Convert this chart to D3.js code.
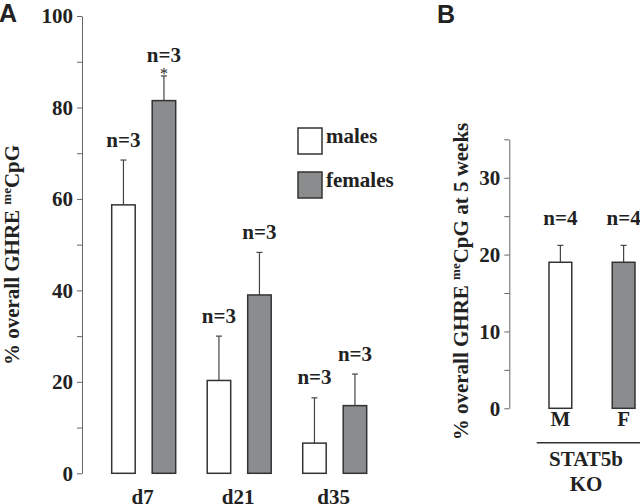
<!DOCTYPE html>
<html><head><meta charset="utf-8">
<script src="https://cdn.jsdelivr.net/npm/d3@7"></script>
<style>
html,body{margin:0;padding:0;background:#fff;}
svg{display:block;}
text{font-family:"Liberation Serif","Times New Roman",serif;font-weight:bold;fill:#222;}
</style></head>
<body>
<svg id="chart" width="640" height="504"></svg>
<script>
// ---- Data (Panel A) ----
const categories = ["d7", "d21", "d35"];
const series = ["males", "females"];
const maleMeans = [58.7, 20.3, 6.6];
const maleErrors = [9.8, 9.7, 9.9];
const femaleMeans = [81.5, 39.0, 14.8];
const femaleErrors = [5.4, 9.3, 6.9];
const maleN = ["n=3", "n=3", "n=3"];
const femaleN = ["n=3", "n=3", "n=3"];
const femaleSignificant = [true, false, false];
const yTicksA = [0, 10, 20, 30, 40, 50, 60, 70, 80, 90, 100];

// ---- Data (Panel B) ----
const koGroups = ["M", "F"];
const koMeans = [19.0, 19.0];
const koErrors = [2.2, 2.2];
const koN = ["n=4", "n=4"];
const yTicksB = [0, 5, 10, 15, 20, 25, 30, 35];

const colors = {males: "#ffffff", females: "#8b8c8e"};

const svg = d3.select("#chart");

// ===== Panel A =====
const yA = d3.scaleLinear().domain([0, 100]).range([473.3, 16]);
const x0 = d3.scaleBand().domain(categories).range([111.7, 366.7]).paddingInner(0.33).paddingOuter(0);
const x1 = d3.scaleBand().domain(series).range([0, x0.bandwidth()]).paddingInner(0.42).paddingOuter(0);

const axisA = d3.axisLeft(yA).tickValues(yTicksA).tickSize(5).tickSizeOuter(0).tickPadding(4)
  .tickFormat(d => d % 20 === 0 ? d : "");
const gA = svg.append("g").attr("transform", "translate(82,0)").call(axisA);
gA.select(".domain").attr("stroke", "#666");
gA.selectAll(".tick line").attr("stroke", "#666");
gA.selectAll(".tick text").style("font-size", "21px").attr("fill", "#222");

const rowsA = [];
categories.forEach((c, i) => {
  rowsA.push({cat: c, s: "males", mean: maleMeans[i], err: maleErrors[i], n: maleN[i], sig: false});
  rowsA.push({cat: c, s: "females", mean: femaleMeans[i], err: femaleErrors[i], n: femaleN[i], sig: femaleSignificant[i]});
});
const bx = d => x0(d.cat) + x1(d.s);
const bc = d => bx(d) + x1.bandwidth() / 2;

// error bars
const errA = svg.append("g").attr("stroke", "#444").attr("stroke-width", 1.2);
errA.selectAll(".v").data(rowsA).join("line")
  .attr("x1", bc).attr("x2", bc)
  .attr("y1", d => yA(d.mean)).attr("y2", d => yA(d.mean + d.err));
errA.selectAll(".c").data(rowsA).join("line")
  .attr("x1", d => bc(d) - 3).attr("x2", d => bc(d) + 3)
  .attr("y1", d => yA(d.mean + d.err)).attr("y2", d => yA(d.mean + d.err));

// bars
svg.append("g").selectAll("rect").data(rowsA).join("rect")
  .attr("x", bx).attr("width", x1.bandwidth())
  .attr("y", d => yA(d.mean)).attr("height", d => yA(0) - yA(d.mean))
  .attr("fill", d => colors[d.s]).attr("stroke", "#333").attr("stroke-width", 1.5);

// n labels
svg.append("g").selectAll("text").data(rowsA).join("text")
  .attr("x", bc).attr("y", d => yA(d.mean + d.err) - 13.5)
  .attr("text-anchor", "middle").style("font-size", "21px").text(d => d.n);
svg.append("g").selectAll("text").data(rowsA.filter(d => d.sig)).join("text")
  .attr("x", bc).attr("y", d => yA(d.mean + d.err) + 3)
  .attr("text-anchor", "middle").style("font-size", "16px").style("font-weight", "normal").text("*");

// category labels
svg.append("g").selectAll("text").data(categories).join("text")
  .attr("x", d => x0(d) + x0.bandwidth() / 2 - 1).attr("y", 504)
  .attr("text-anchor", "middle").style("font-size", "21px").text(d => d);

// legend
const leg = svg.append("g").attr("transform", "translate(298,128)");
series.forEach((s, i) => {
  const g = leg.append("g").attr("transform", `translate(0,${i * 44})`);
  g.append("rect").attr("width", 24).attr("height", 26).attr("fill", colors[s]).attr("stroke", "#333").attr("stroke-width", 1.5);
  g.append("text").attr("x", 28).attr("y", 15).style("font-size", "21px").text(s);
});

// y label A
const labA = svg.append("text").attr("transform", "translate(19,255) rotate(-90)")
  .attr("text-anchor", "middle").style("font-size", "21px");
labA.append("tspan").text("% overall GHRE ");
labA.append("tspan").attr("dy", -8).style("font-size", "13px").text("me");
labA.append("tspan").attr("dy", 8).text("CpG");

svg.append("text").attr("x", -1).attr("y", 22).style("font-family", "'Liberation Sans',Arial,sans-serif")
  .style("font-size", "25px").text("A");

// ===== Panel B =====
const yB = d3.scaleLinear().domain([0, 35]).range([408.3, 139.3]);
const xB = d3.scaleBand().domain(koGroups).range([549, 635]).paddingInner(0.64).paddingOuter(0);

const axisB = d3.axisLeft(yB).tickValues(yTicksB).tickSize(5).tickSizeOuter(0).tickPadding(4)
  .tickFormat(d => d % 10 === 0 ? d : "");
const gB = svg.append("g").attr("transform", "translate(509.3,0)").call(axisB);
gB.select(".domain").attr("stroke", "#666");
gB.selectAll(".tick line").attr("stroke", "#666");
gB.selectAll(".tick text").style("font-size", "21px").attr("fill", "#222");

const rowsB = koGroups.map((g, i) => ({g, mean: koMeans[i], err: koErrors[i], n: koN[i], s: series[i]}));
const bcB = d => xB(d.g) + xB.bandwidth() / 2;

const errB = svg.append("g").attr("stroke", "#444").attr("stroke-width", 1.2);
errB.selectAll(".v").data(rowsB).join("line")
  .attr("x1", bcB).attr("x2", bcB)
  .attr("y1", d => yB(d.mean)).attr("y2", d => yB(d.mean + d.err));
errB.selectAll(".c").data(rowsB).join("line")
  .attr("x1", d => bcB(d) - 3).attr("x2", d => bcB(d) + 3)
  .attr("y1", d => yB(d.mean + d.err)).attr("y2", d => yB(d.mean + d.err));

svg.append("g").selectAll("rect").data(rowsB).join("rect")
  .attr("x", d => xB(d.g)).attr("width", xB.bandwidth())
  .attr("y", d => yB(d.mean)).attr("height", d => yB(0) - yB(d.mean))
  .attr("fill", d => colors[d.s]).attr("stroke", "#333").attr("stroke-width", 1.5);

svg.append("g").selectAll("text").data(rowsB).join("text")
  .attr("x", bcB).attr("y", d => yB(d.mean + d.err) - 20)
  .attr("text-anchor", "middle").style("font-size", "21px").text(d => d.n);

svg.append("g").selectAll("text").data(rowsB).join("text")
  .attr("x", bcB).attr("y", yB(0) + 18)
  .attr("text-anchor", "middle").style("font-size", "21px").text(d => d.g);

svg.append("line").attr("x1", 536.7).attr("x2", 640).attr("y1", 442.7).attr("y2", 442.7)
  .attr("stroke", "#333").attr("stroke-width", 1.5);
const midB = (xB.range()[0] + xB.range()[1]) / 2 - 6;
svg.append("text").attr("x", midB).attr("y", 466).attr("text-anchor", "middle").style("font-size", "21px").text("STAT5b");
svg.append("text").attr("x", midB).attr("y", 490.5).attr("text-anchor", "middle").style("font-size", "21px").text("KO");

const labB = svg.append("text").attr("transform", "translate(468,281.5) rotate(-90)")
  .attr("text-anchor", "middle").style("font-size", "21px");
labB.append("tspan").text("% overall GHRE ");
labB.append("tspan").attr("dy", -8).style("font-size", "13px").text("me");
labB.append("tspan").attr("dy", 8).text("CpG at 5 weeks");

svg.append("text").attr("x", 437).attr("y", 22.5).style("font-family", "'Liberation Sans',Arial,sans-serif")
  .style("font-size", "25px").text("B");
</script>
</body></html>
